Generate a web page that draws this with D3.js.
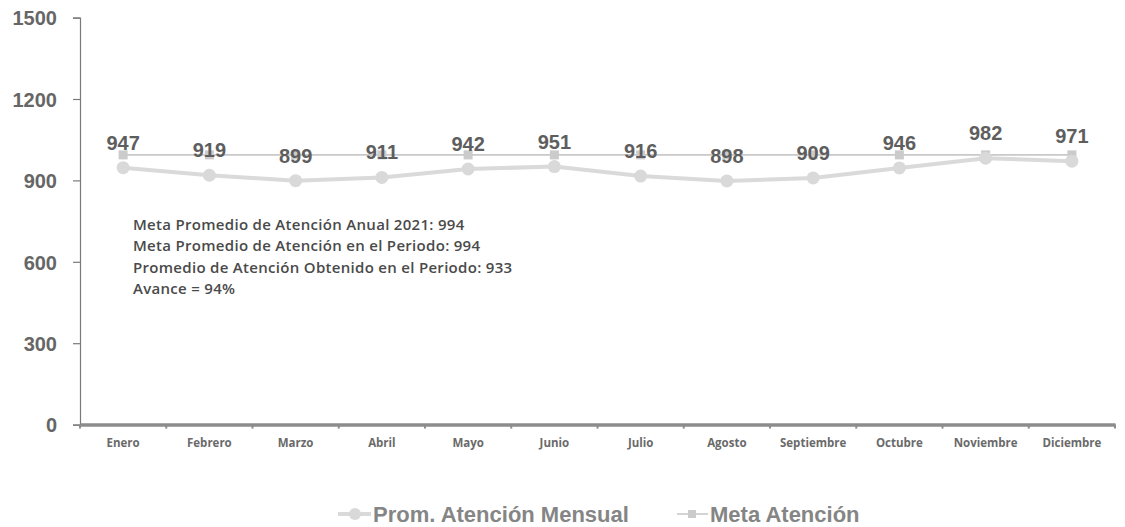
<!DOCTYPE html>
<html>
<head>
<meta charset="utf-8">
<script src="https://cdn.jsdelivr.net/npm/d3@7"></script>
<style>
  html, body { margin: 0; padding: 0; background: #fff; }
  svg { display: block; }
</style>
</head>
<body>
<svg id="chart" width="1125" height="527"></svg>
<script>
const months = ["Enero","Febrero","Marzo","Abril","Mayo","Junio","Julio","Agosto","Septiembre","Octubre","Noviembre","Diciembre"];
const promMensual = [947, 919, 899, 911, 942, 951, 916, 898, 909, 946, 982, 971];
const metaAtencion = [994, 994, 994, 994, 994, 994, 994, 994, 994, 994, 994, 994];
const yTicks = [0, 300, 600, 900, 1200, 1500];
const notes = [
  "Meta Promedio de Atención Anual 2021: 994",
  "Meta Promedio de Atención en el Periodo: 994",
  "Promedio de Atención Obtenido en el Periodo: 933",
  "Avance = 94%"
];
const seriesNames = ["Prom. Atención Mensual", "Meta Atención"];

(function () {
const svg = d3.select("#chart");
const mLeft = 80, mRight = 1115, mTop = 17.6, mBottom = 424.6;

const x = d3.scaleBand().domain(months).range([mLeft, mRight]).paddingInner(0).paddingOuter(0);
const y = d3.scaleLinear().domain([0, 1500]).range([mBottom, mTop]);
const cx = m => x(m) + x.bandwidth() / 2;

// Y axis
const yAxis = svg.append("g").attr("transform", `translate(${mLeft},0)`)
  .call(d3.axisLeft(y).tickValues(yTicks).tickSize(7).tickPadding(16).tickFormat(d3.format("d")));
yAxis.select(".domain").attr("stroke", "#7a7a7a").attr("stroke-width", 1.2);
yAxis.selectAll(".tick line").attr("stroke", "#7a7a7a").attr("stroke-width", 1.2);
yAxis.selectAll(".tick text")
  .attr("fill", "#666").attr("font-family", "Liberation Sans, Arial, sans-serif")
  .attr("font-weight", "bold").attr("font-size", 20).attr("dy", "0.36em");

// X axis
const xAxis = svg.append("g").attr("transform", `translate(0,${mBottom})`)
  .call(d3.axisBottom(x).tickSize(0).tickPadding(14));
xAxis.select(".domain").attr("stroke", "#8c8c8c").attr("stroke-width", 3.5);
xAxis.selectAll(".tick text")
  .attr("fill", "#6a6a6a").attr("font-family", "Open Sans, sans-serif")
  .attr("font-weight", "bold").attr("font-size", 11.5);
const bounds = months.map(m => x(m)).concat([mRight]);
svg.append("g").selectAll("line").data(bounds).join("line")
  .attr("x1", d => d).attr("x2", d => d)
  .attr("y1", mBottom).attr("y2", mBottom + 4)
  .attr("stroke", "#8c8c8c").attr("stroke-width", 2);

// Meta line
const lineGen = d3.line().x((d, i) => cx(months[i])).y(d => y(d));
svg.append("path").datum(metaAtencion)
  .attr("d", lineGen).attr("fill", "none")
  .attr("stroke", "#c9c9c9").attr("stroke-width", 1.6);
svg.append("g").selectAll("rect").data(metaAtencion).join("rect")
  .attr("x", (d, i) => cx(months[i]) - 4.5).attr("y", d => y(d) - 4.5)
  .attr("width", 9).attr("height", 9).attr("fill", "#cbcbcb");

// Prom line
svg.append("path").datum(promMensual)
  .attr("d", lineGen).attr("fill", "none")
  .attr("stroke", "#dadada").attr("stroke-width", 4);
svg.append("g").selectAll("circle").data(promMensual).join("circle")
  .attr("cx", (d, i) => cx(months[i])).attr("cy", d => y(d))
  .attr("r", 6.5).attr("fill", "#d9d9d9");

// Data labels
svg.append("g").selectAll("text").data(promMensual).join("text")
  .attr("x", (d, i) => cx(months[i])).attr("y", d => y(d) - 18)
  .attr("text-anchor", "middle")
  .attr("fill", "#5e5e5e").attr("font-family", "Liberation Sans, Arial, sans-serif")
  .attr("font-weight", "bold").attr("font-size", 20)
  .text(d => d);

// Notes
svg.append("g").selectAll("text").data(notes).join("text")
  .attr("x", 133).attr("y", (d, i) => 230 + i * 21.3)
  .attr("fill", "#4a4a4a").attr("font-family", "Open Sans, sans-serif")
  .attr("font-weight", 600).attr("font-size", 15).attr("letter-spacing", 0.3)
  .text(d => d);

// Legend
const legend = svg.append("g");
const lgY = 514;
legend.append("line").attr("x1", 338).attr("x2", 371).attr("y1", lgY).attr("y2", lgY)
  .attr("stroke", "#dadada").attr("stroke-width", 4);
legend.append("circle").attr("cx", 355).attr("cy", lgY).attr("r", 6).attr("fill", "#d9d9d9");
legend.append("text").attr("x", 373).attr("y", lgY + 8).text(seriesNames[0])
  .attr("fill", "#858585").attr("font-family", "Liberation Sans, Arial, sans-serif")
  .attr("font-weight", "bold").attr("font-size", 22);
legend.append("line").attr("x1", 677).attr("x2", 708).attr("y1", lgY).attr("y2", lgY)
  .attr("stroke", "#c9c9c9").attr("stroke-width", 1.6);
legend.append("rect").attr("x", 688).attr("y", lgY - 4).attr("width", 8).attr("height", 8).attr("fill", "#cbcbcb");
legend.append("text").attr("x", 710).attr("y", lgY + 8).text(seriesNames[1])
  .attr("fill", "#858585").attr("font-family", "Liberation Sans, Arial, sans-serif")
  .attr("font-weight", "bold").attr("font-size", 22);
})();
</script>
</body>
</html>
